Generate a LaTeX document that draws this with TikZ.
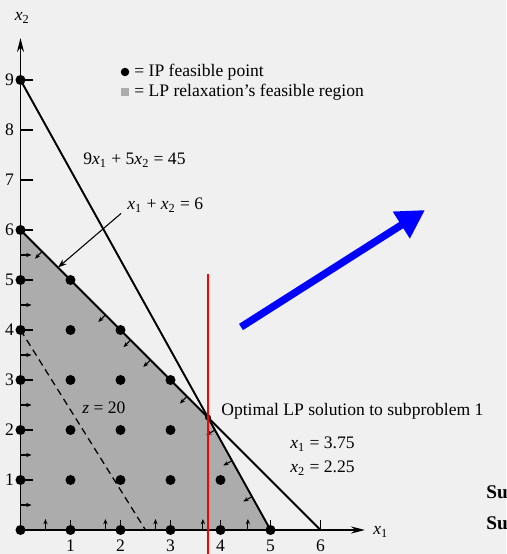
\documentclass[tikz,border=0pt]{standalone}
\usepackage{fontspec}
\setmainfont{Liberation Serif}
\usetikzlibrary{
	calc,
	arrows.meta
}
\definecolor{PaperGray}{RGB}{240,240,240}
\definecolor{RegionGray}{RGB}{172,172,172}
\newcommand{\xsub}[1]{\textit{x}\textsubscript{#1}}

\begin{document}
\begin{tikzpicture}[
	x=1cm,
	y=1cm,
	font=\fontsize{10}{12}\selectfont,
	bound/.style={black, line width=1.1pt},
	axisline/.style={black, line width=1pt, -{Stealth[length=8pt,width=4pt]}},
	tickline/.style={black, line width=0.8pt},
	ticklbl/.style={inner sep=0pt},
	hatch/.style={black, line width=0.6pt, -{Stealth[length=3pt,width=2.4pt]}},
	ipdot/.style={circle, fill=black, inner sep=0pt, minimum size=0.2cm},
	lbl/.style={inner sep=0pt, anchor=west}
	]
	
	\useasboundingbox (-0.41,-0.48) rectangle (9.71,10.6);
	\fill[PaperGray] (-0.41,-0.48) rectangle (9.71,10.6);
	
	% corner points of the constraints
	\coordinate (O) at (0,0);
	\coordinate (A9) at (0,9);
	\coordinate (A6) at (0,6);
	\coordinate (B5) at (5,0);
	\coordinate (B6) at (6,0);
	\coordinate (opt) at (3.75,2.25);
	\coordinate (ytop) at (0,9.84);
	\coordinate (xend) at (6.89,0);
	
	% LP feasible region
	\fill[RegionGray] (O) -- (A6) -- (opt) -- (B5) -- cycle;
	
	% arrows pointing into the region
	\foreach \t in {0.0833,0.25,0.4167,0.5833,0.75,0.9167}
	\draw[hatch] ($(O)!\t!(A6)$) -- ++(0.22,0);
	\foreach \t in {0.0833,0.283,0.45,0.608,0.758}
	\draw[hatch] ($(O)!\t!(B6)$) -- ++(0,0.22);
	\foreach \t in {0.072,0.283,0.367,0.433,0.555}
	\draw[hatch] ($(A6)!\t!(B6)$) -- ($($(A6)!\t!(B6)$)!0.2cm!-90:(B6)$);
	\foreach \t in {0.778,0.846,0.926}
	\draw[hatch] ($(A9)!\t!(B5)$) -- ($($(A9)!\t!(B5)$)!0.2cm!-90:(B5)$);
	
	% axes
	\draw[axisline] (O) -- (ytop);
	\draw[axisline] (O) -- (xend);
	\node[lbl] (x2lbl) at (-0.12,10.24) {\xsub{2}};
	\node[lbl] (x1lbl) at (7.05,-0.04) {\xsub{1}};
	
	\foreach \n in {1,...,9}{
		\draw[tickline] (0,\n) -- ++(0.25,0);
		\node[ticklbl] (ylab\n) at (-0.22,\n) {\n};
	}
	\foreach \n in {1,...,6}{
		\draw[tickline] (\n,0) -- ++(0,0.2);
		\node[ticklbl] (xlab\n) at (\n,-0.32) {\n};
	}
	
	% constraint lines and objective line
	\draw[bound] (A9) -- (B5);
	\draw[bound] (A6) -- (B6);
	\coordinate (z4) at (0,4);
	\coordinate (z25) at (2.5,0);
	\draw[black, line width=0.7pt, dash pattern=on 4pt off 2.6pt] (z4) -- (z25);
	
	% IP feasible points
	\foreach \i/\j in {0/0,0/1,0/2,0/3,0/4,0/5,0/6,0/9,
		1/0,1/1,1/2,1/3,1/4,1/5,
		2/0,2/1,2/2,2/3,2/4,
		3/0,3/1,3/2,3/3,
		4/0,4/1,5/0}
	\node[ipdot] (p\i\j) at (\i,\j) {};
	\node[ipdot, minimum size=0.12cm] (optdot) at (opt) {};
	
	% legend
	\node[ipdot, minimum size=0.17cm] (legdot) at (2.09,9.16) {};
	\node[lbl] (legdottxt) at (2.27,9.16) {= IP feasible point};
	\node[fill=RegionGray, inner sep=0pt, minimum size=0.17cm] (legsq) at (2.09,8.76) {};
	\node[lbl] (legsqtxt) at (2.27,8.76) {= LP relaxation's feasible region};
	
	% labels
	\node[lbl] (eqnine) at (1.25,7.4) {9\xsub{1} + 5\xsub{2} = 45};
	\node[lbl] (eqsum) at (2.13,6.5) {\xsub{1} + \xsub{2} = 6};
	\coordinate (ptr) at ($(A6)!0.125!(B6)$);
	\draw[black, line width=0.6pt, -{Stealth[length=5pt,width=3.5pt]}]
	($(eqsum.south west)+(-0.12,-0.02)$) -- (ptr);
	\node[lbl] (zlbl) at (1.23,2.44) {\textit{z} = 20};
	\node[lbl] (optlbl) at (4.01,2.38) {Optimal LP solution to subproblem 1};
	\node[lbl] (xone) at (5.39,1.72) {\xsub{1} = 3.75};
	\node[lbl] (xtwo) at (5.39,1.24) {\xsub{2} = 2.25};
	\node[lbl, font=\fontsize{11}{13}\selectfont\bfseries] (suone) at (9.31,0.76) {Su};
	\node[lbl, font=\fontsize{11}{13}\selectfont\bfseries] (sutwo) at (9.31,0.14) {Su};
	
	% branching line and arrow
	\coordinate (rtop) at (3.75,5.12);
	\coordinate (rbot) at (3.75,-0.48);
	\draw[red, line width=1.7pt] (rtop) -- (rbot);
	\coordinate (btail) at (4.41,4.06);
	\coordinate (bhead) at (8.09,6.4);
	\draw[blue, line width=4.2pt, -{Triangle[length=16pt,width=17pt]}] (btail) -- (bhead);
	
\end{tikzpicture}
\end{document}
